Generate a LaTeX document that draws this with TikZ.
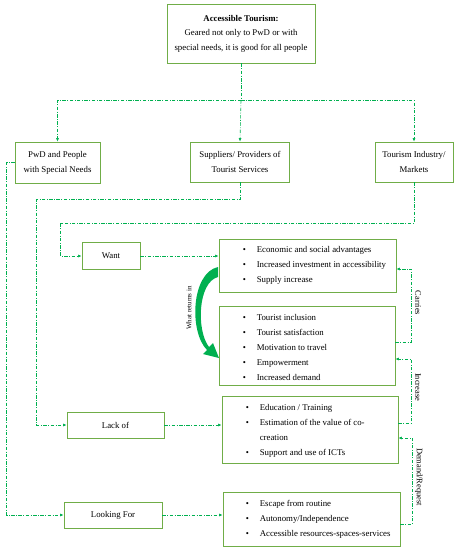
\documentclass[tikz,border=0pt]{standalone}
\usepackage{fontspec}
\setmainfont{Liberation Serif}
\usetikzlibrary{arrows.meta}
\definecolor{boxgreen}{RGB}{112,173,71}
\definecolor{linkgreen}{RGB}{0,176,80}
\newcommand{\itm}[1]{\makebox[14pt][l]{\textbullet}#1}

\begin{document}
\begin{tikzpicture}[x=1pt,y=-1pt,
    every node/.style={font=\fontsize{8.8}{15}\selectfont},
    box/.style={draw=boxgreen,line width=0.8pt,inner sep=0pt,align=center},
    link/.style={draw=linkgreen,line width=0.6pt,
      dash pattern=on 3.5pt off 1.5pt on 0.8pt off 1.5pt},
    tip/.style={-{Latex[length=3.5pt,width=3pt]}},
    items/.style={anchor=west,align=left,inner sep=0pt},
    lbl/.style={rotate=-90,font=\fontsize{8.4}{10}\selectfont}]
  \useasboundingbox (0,0) rectangle (459,550);

  % top and the three groups
  \node[box,minimum width=148,minimum height=59,font=\fontsize{8.8}{14.5}\selectfont]
    (tour) at (241,33.5) {\textbf{Accessible Tourism:}\\Geared not only to PwD or with\\special needs, it is good for all people};
  \node[box,minimum width=85,minimum height=41] (pwd) at (57.5,162.5) {PwD and People\\with Special Needs};
  \node[box,minimum width=99,minimum height=40] (supp) at (240,162) {Suppliers/ Providers of\\Tourist Services};
  \node[box,minimum width=78,minimum height=40] (ind) at (414,162) {Tourism Industry/\\Markets};

  % left column
  \node[box,minimum width=58,minimum height=27] (want) at (111,256) {Want};
  \node[box,minimum width=97,minimum height=26] (lack) at (115.5,425) {Lack of};
  \node[box,minimum width=98,minimum height=26] (look) at (113,515) {Looking For};

  % right column
  \node[box,minimum width=177,minimum height=53] (adv) at (307.5,265.5) {};
  \node[items] at ([xshift=24pt]adv.west) {\itm{Economic and social advantages}\\
    \itm{Increased investment in accessibility}\\\itm{Supply increase}};
  \node[box,minimum width=176,minimum height=79] (ret) at (307,345.5) {};
  \node[items] at ([xshift=24pt,yshift=-2pt]ret.west) {\itm{Tourist inclusion}\\
    \itm{Tourist satisfaction}\\\itm{Motivation to travel}\\\itm{Empowerment}\\\itm{Increased demand}};
  \node[box,minimum width=176,minimum height=67] (edu) at (310,429.5) {};
  \node[items] at ([xshift=24pt,yshift=-1pt]edu.west) {\itm{Education / Training}\\
    \itm{Estimation of the value of co-}\\\hspace*{14pt}creation\\\itm{Support and use of ICTs}};
  \node[box,minimum width=177,minimum height=54] (need) at (311.5,519) {};
  \node[items] at ([xshift=23pt]need.west) {\itm{Escape from routine}\\
    \itm{Autonomy/Independence}\\\itm{Accessible resources-spaces-services}};

  % connectors
  \draw[link] (tour.south) -- ++(0,37) coordinate (split);
  \draw[link,tip] (split) -| (pwd.north);
  \draw[link,tip] (split) -- (supp.north);
  \draw[link,tip] (split) -| (ind.north);
  \draw[link,tip] (pwd.west) -- ++(-8,0) |- (look.west);
  \draw[link,tip] (supp.south) -- ++(0,17) -| ([xshift=-30pt]lack.west) -- (lack.west);
  \draw[link,tip] (ind.south) -- ++(0,41) -| ([xshift=-21pt]want.west) -- (want.west);
  \draw[link,tip] (want.east) -- (want -| adv.west);
  \draw[link,tip] (lack.east) -- (lack -| edu.west);
  \draw[link,tip] (look.east) -- (look -| need.west);

  % feedback on the right
  \draw[link,tip] ([yshift=3.5pt]ret.east) -- ++(16,0) |- ([yshift=-3.5pt]adv.east);
  \draw[link,tip] ([yshift=6.5pt]edu.east) -- ++(13,0) |- ([yshift=-13.5pt]ret.east);
  \draw[link,tip] ([yshift=-5pt]need.east) -- ++(12,0) |- ([yshift=-8.5pt]edu.east);
  \node[lbl] (carr) at (418,303) {Carries};
  \node[lbl] (incr) at (418,387) {Increase};
  \node[lbl] (dem) at (419,477) {Demand/Request};

  % thick curved arrow
  \fill[linkgreen] (218,267) .. controls (191,273) and (189,332) .. (207,350)
    -- (203,354) -- (219,358) -- (213,343) -- (209,347)
    .. controls (196,330) and (198,282) .. (218,277) -- cycle;
  \node[rotate=90,font=\fontsize{7}{8}\selectfont] (what) at (189,308) {What returns in};
\end{tikzpicture}
\end{document}
